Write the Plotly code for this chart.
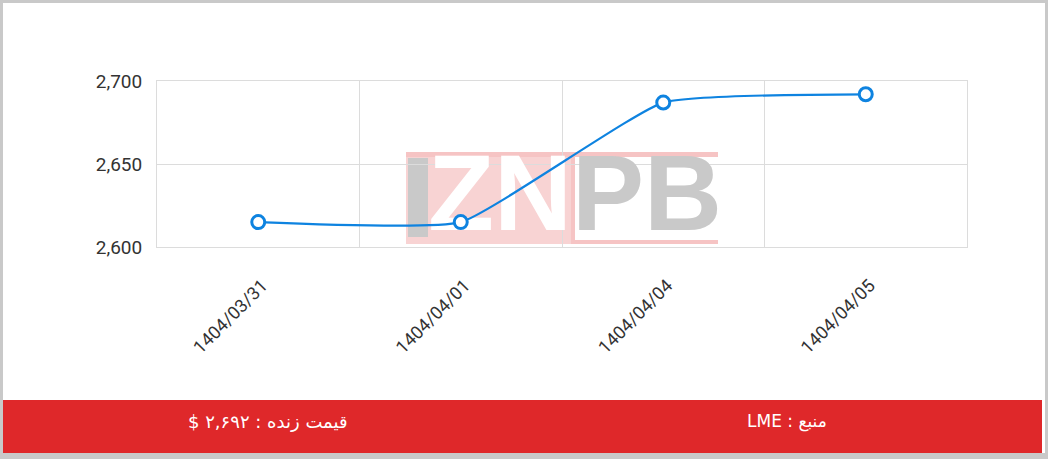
import plotly.graph_objects as go

# ---- data ----
dates = ["1404/03/31", "1404/04/01", "1404/04/04", "1404/04/05"]
prices = [2615, 2615, 2687, 2692]
y_ticks = [2600, 2650, 2700]
footer_price = "\u202bقیمت زنده : ۲,۶۹۲ $\u202c"
footer_source = "\u202bمنبع : LME\u202c"

# ---- layout geometry (pixels) ----
W, H = 1048, 459
L, R, T, B = 157, 81, 81, 212
PW, PH = W - L - R, H - T - B
Y0, Y1 = 2600, 2700
X0, X1 = -0.5, len(dates) - 0.5


def px(x):  # pixel -> paper x
    return (x - L) / PW


def py(y):  # pixel -> paper y
    return (H - B - y) / PH


def dx(x):  # pixel -> data x
    return X0 + (X1 - X0) * (x - L) / PW


def dy(y):  # pixel -> data y
    return Y0 + (Y1 - Y0) * (H - B - y) / PH


BLUE = "#0e83e0"
GRID = "#dcdcdc"
RED = "#df282a"

fig = go.Figure()

# watermark letters (drawn before data so the line sits on top)
fig.add_trace(go.Scatter(
    x=[dx(500)], y=[dy(203)], mode="text",
    text=["ZN"], textposition="middle center",
    textfont=dict(family="Liberation Sans Narrow, Liberation Sans", size=108, color="white", weight="bold"),
    hoverinfo="skip", showlegend=False))
fig.add_trace(go.Scatter(
    x=[dx(647)], y=[dy(203)], mode="text",
    text=["PB"], textposition="middle center",
    textfont=dict(family="Liberation Sans Narrow, Liberation Sans", size=108, color="#c9c9c9", weight="bold"),
    hoverinfo="skip", showlegend=False))

# data line
fig.add_trace(go.Scatter(
    x=list(range(len(dates))), y=prices, mode="lines+markers",
    line=dict(color=BLUE, width=2.2, shape="spline", smoothing=0.4),
    marker=dict(size=13, color="white", line=dict(color=BLUE, width=3)),
    showlegend=False, cliponaxis=False))

shapes = [
    # white card
    dict(type="rect", xref="paper", yref="paper", x0=px(3), x1=px(1045), y0=py(3), y1=py(453),
         fillcolor="white", line_width=0, layer="below"),
    # red footer bar
    dict(type="rect", xref="paper", yref="paper", x0=px(3), x1=px(1042), y0=py(400), y1=py(453),
         fillcolor=RED, line_width=0, layer="below"),
    # watermark pink block
    dict(type="rect", xref="paper", yref="paper", x0=px(406), x1=px(575), y0=py(152), y1=py(244),
         fillcolor="#f8d3d3", line_width=0, layer="below"),
    dict(type="rect", xref="paper", yref="paper", x0=px(406), x1=px(718), y0=py(152), y1=py(157),
         fillcolor="#f6c4c4", line_width=0, layer="below"),
    dict(type="rect", xref="paper", yref="paper", x0=px(575), x1=px(718), y0=py(240), y1=py(244),
         fillcolor="#f6c4c4", line_width=0, layer="below"),
    dict(type="rect", xref="paper", yref="paper", x0=px(571), x1=px(575), y0=py(152), y1=py(244),
         fillcolor="#f6c4c4", line_width=0, layer="below"),
    # watermark "I" bar
    dict(type="rect", xref="paper", yref="paper", x0=px(408), x1=px(428), y0=py(158), y1=py(237),
         fillcolor="#c9c9c9", line_width=0, layer="below"),
]

annotations = [
    dict(text=footer_price, xref="paper", yref="paper", x=px(268), y=py(422),
         xanchor="center", yanchor="middle", showarrow=False,
         font=dict(family="DejaVu Sans", size=18, color="white")),
    dict(text=footer_source, xref="paper", yref="paper", x=px(787), y=py(422),
         xanchor="center", yanchor="middle", showarrow=False,
         font=dict(family="DejaVu Sans", size=17, color="white")),
]

fig.update_layout(
    width=W, height=H,
    margin=dict(l=L, r=R, t=T, b=B, pad=0),
    paper_bgcolor="#c9c9c9",
    plot_bgcolor="rgba(0,0,0,0)",
    shapes=shapes,
    annotations=annotations,
    font=dict(family="Roboto", color="#333333"),
    xaxis=dict(
        range=[X0, X1], tickmode="array",
        tickvals=list(range(len(dates))), ticktext=dates,
        tickangle=-45, tickfont=dict(size=18, family="Roboto", color="#333333"),
        showgrid=False, zeroline=False, ticks="",
        minor=dict(tickmode="array", tickvals=[i - 0.5 for i in range(len(dates) + 1)],
                   showgrid=True, gridcolor=GRID, gridwidth=1, ticks=""),
        showline=True, mirror=True, linecolor=GRID, linewidth=1,
        automargin=False, ticklabelstandoff=20, ticklabelshift=4, fixedrange=True,
    ),
    yaxis=dict(
        range=[Y0, Y1], tickmode="array", tickvals=y_ticks,
        tickformat=",", tickfont=dict(size=19, family="Roboto", color="#333333"),
        showgrid=True, gridcolor=GRID, gridwidth=1, zeroline=False, ticks="",
        showline=True, mirror=True, linecolor=GRID, linewidth=1,
        automargin=False, ticklabelstandoff=10, fixedrange=True,
    ),
)

fig.write_html("out.html", config={"displayModeBar": False},
               post_script="document.body.style.margin='0';")
